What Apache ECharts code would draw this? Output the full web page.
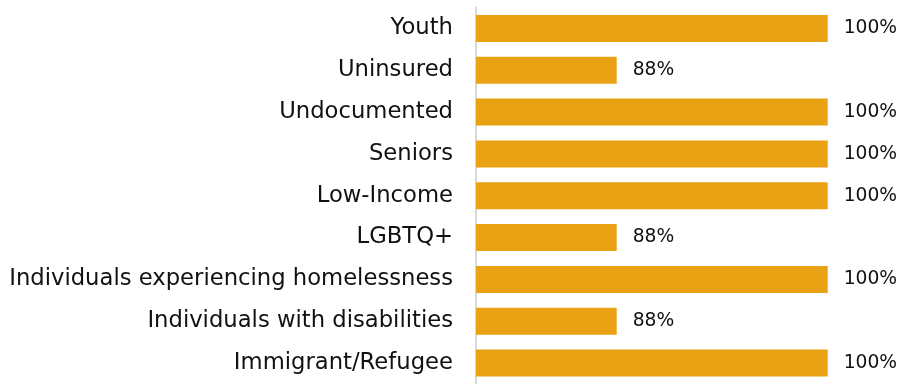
<!DOCTYPE html>
<html><head><meta charset="utf-8">
<script src="https://cdn.jsdelivr.net/npm/echarts@6/dist/echarts.min.js"></script>
<style>html,body{margin:0;padding:0;background:#fff}#c{width:910px;height:384px}</style>
</head><body><div id="c"></div>
<script>
const categories = ["Youth","Uninsured","Undocumented","Seniors","Low-Income","LGBTQ+","Individuals experiencing homelessness","Individuals with disabilities","Immigrant/Refugee"];
const values = [100,88,100,100,100,88,100,88,100];

const chart = echarts.init(document.getElementById('c'));
chart.setOption({
  animation:false,
  grid:{left:476, top:7.5, width:351.7, height:382.5, containLabel:false},
  xAxis:{type:'value', min:80, max:100, show:false},
  yAxis:{type:'category', inverse:true, data:categories,
    axisLine:{show:true, lineStyle:{color:'#d9d9d9', width:2}},
    axisTick:{show:false},
    axisLabel:{color:'#111111', fontFamily:'DejaVu Sans', fontSize:22.7, margin:23}},
  series:[{type:'bar', data:values, barWidth:27,
    itemStyle:{color:'#E9A213'},
    label:{show:true, position:'right', distance:16, formatter:'{c}%', color:'#111111', fontFamily:'DejaVu Sans', fontSize:18.7}}]
});
</script></body></html>
